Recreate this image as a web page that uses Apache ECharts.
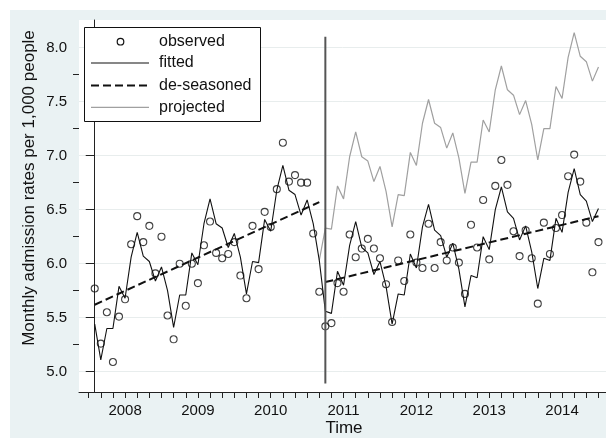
<!DOCTYPE html>
<html>
<head>
<meta charset="utf-8">
<script src="https://cdn.jsdelivr.net/npm/echarts@6/dist/echarts.min.js"></script>
<style>
html, body { margin: 0; padding: 0; background: #fff; }
#chart { width: 606px; height: 438px; }
</style>
</head>
<body>
<div id="chart"></div>
<script>
// monthly series, month 0 = first observation (Aug 2007)
var observed = [
  5.77, 5.26, 5.55, 5.09, 5.51, 5.67, 6.18, 6.44, 6.20, 6.35, 5.91, 6.25,
  5.52, 5.30, 6.00, 5.61, 6.00, 5.82, 6.17, 6.39, 6.10, 6.05, 6.09, 6.20,
  5.89, 5.68, 6.35, 5.95, 6.48, 6.34, 6.69, 7.12, 6.76, 6.82, 6.75, 6.75,
  6.28, 5.74, 5.42, 5.45, 5.82, 5.74, 6.27, 6.06, 6.14, 6.23, 6.14, 6.05,
  5.81, 5.46, 6.03, 5.84, 6.27, 6.01, 5.96, 6.37, 5.96, 6.20, 6.03, 6.15,
  6.01, 5.72, 6.36, 6.15, 6.59, 6.04, 6.72, 6.96, 6.73, 6.30, 6.07, 6.31,
  6.05, 5.63, 6.38, 6.09, 6.33, 6.45, 6.81, 7.01, 6.76, 6.38, 5.92, 6.20
];
// fitted, months 0-37 (before the change)
var fittedPre = [
  5.44, 5.11, 5.40, 5.40, 5.79, 5.68, 6.06, 6.29, 6.07, 6.02, 5.84, 5.97,
  5.75, 5.41, 5.71, 5.71, 6.10, 5.99, 6.37, 6.60, 6.37, 6.33, 6.15, 6.28,
  6.06, 5.72, 6.02, 6.01, 6.41, 6.30, 6.68, 6.91, 6.68, 6.64, 6.45, 6.59,
  6.37, 6.03
];
// fitted, months 38-83 (after the change)
var fittedPost = [
  5.56, 5.54, 5.93, 5.80, 6.17, 6.39, 6.15, 6.10, 5.90, 6.02,
  5.79, 5.44, 5.72, 5.71, 6.09, 5.96, 6.34, 6.55, 6.31, 6.26, 6.06, 6.19,
  5.95, 5.60, 5.89, 5.87, 6.25, 6.13, 6.50, 6.71, 6.48, 6.42, 6.22, 6.35,
  6.11, 5.77, 6.05, 6.03, 6.42, 6.29, 6.66, 6.88, 6.64, 6.58, 6.39, 6.51
];
// projected, months 37-83
var projected = [
  6.03,
  6.33, 6.32, 6.72, 6.60, 6.99, 7.22, 6.99, 6.95, 6.76, 6.90,
  6.67, 6.34, 6.64, 6.63, 7.03, 6.91, 7.30, 7.52, 7.30, 7.26, 7.07, 7.21,
  6.98, 6.65, 6.94, 6.94, 7.33, 7.22, 7.61, 7.83, 7.61, 7.56, 7.38, 7.51,
  7.29, 6.96, 7.25, 7.25, 7.64, 7.53, 7.91, 8.14, 7.92, 7.87, 7.69, 7.82
];
var deseasonedPre = [[0, 5.62], [37, 6.57]];
var deseasonedPost = [[38, 5.83], [83, 6.44]];
var interruption = [[38, 8.10], [38, 4.89]];

var yearLabels = ['2008', '2009', '2010', '2011', '2012', '2013', '2014'];
var yearMonths = [5, 17, 29, 41, 53, 65, 77];
var yMajor = [5.0, 5.5, 6.0, 6.5, 7.0, 7.5, 8.0];
var yMinor = [5.25, 5.75, 6.25, 6.75, 7.25, 7.75];

var xTicks = [];
for (var t = -1; t <= 83; t += 2) xTicks.push(t);

var font = 'Liberation Sans, Arial, sans-serif';
var chart = echarts.init(document.getElementById('chart'));

function pairs(arr, start) {
  return arr.map(function (v, i) { return [i + start, v]; });
}

var legendRows = [
  { y: 41.7, label: 'observed' },
  { y: 63.0, label: 'fitted' },
  { y: 85.6, label: 'de-seasoned' },
  { y: 107.4, label: 'projected' }
];
var legendEls = [{
  type: 'rect', shape: { x: 84.5, y: 27.5, width: 176, height: 94 },
  style: { fill: '#fff', stroke: '#111', lineWidth: 1 }, z: 50
}, {
  type: 'circle', shape: { cx: 120.5, cy: legendRows[0].y, r: 3.3 },
  style: { fill: 'none', stroke: '#111', lineWidth: 1.2 }, z: 51
}, {
  type: 'line', shape: { x1: 91, y1: legendRows[1].y, x2: 149, y2: legendRows[1].y },
  style: { stroke: '#111', lineWidth: 1.2 }, z: 51
}, {
  type: 'line', shape: { x1: 91, y1: legendRows[2].y, x2: 149, y2: legendRows[2].y },
  style: { stroke: '#111', lineWidth: 2, lineDash: [8, 4] }, z: 51
}, {
  type: 'line', shape: { x1: 91, y1: legendRows[3].y, x2: 149, y2: legendRows[3].y },
  style: { stroke: '#a0a0a0', lineWidth: 1.2 }, z: 51
}];
legendRows.forEach(function (r) {
  legendEls.push({
    type: 'text', x: 159, y: r.y, z: 51,
    style: { text: r.label, font: '16px ' + font, fill: '#111', verticalAlign: 'middle' }
  });
});

var option = {
  animation: false,
  backgroundColor: '#eaf2f3',
  grid: {
    left: 79, top: 20, right: 0, bottom: 46,
    show: true, backgroundColor: '#fff', borderWidth: 0
  },
  xAxis: {
    type: 'value',
    min: -2.59,
    max: 84.24,
    axisLine: { lineStyle: { color: '#222', width: 1 } },
    axisTick: { customValues: xTicks, length: 6, lineStyle: { color: '#222' } },
    axisLabel: {
      customValues: yearMonths,
      margin: 11,
      fontSize: 15,
      fontFamily: font,
      color: '#111',
      formatter: function (v) { return yearLabels[yearMonths.indexOf(v)]; }
    },
    splitLine: { show: false }
  },
  yAxis: [{
    type: 'value',
    min: 4.812,
    max: 8.256,
    position: 'left',
    axisLine: { show: true, lineStyle: { color: '#222', width: 1 } },
    axisTick: { show: true, customValues: yMajor, length: 9, lineStyle: { color: '#222' } },
    axisLabel: {
      customValues: yMajor,
      margin: 12,
      fontSize: 15,
      fontFamily: font,
      color: '#111',
      formatter: function (v) { return v.toFixed(1); }
    },
    splitLine: { show: true, lineStyle: { color: '#e8eded', width: 1 } }
  }, {
    type: 'value',
    min: 4.812,
    max: 8.256,
    position: 'left',
    axisLine: { show: false },
    axisTick: { show: true, customValues: yMinor, length: 6, lineStyle: { color: '#222' } },
    axisLabel: { show: false },
    splitLine: { show: false }
  }],
  series: [{
    name: 'projected',
    type: 'line',
    data: pairs(projected, 37),
    symbol: 'none',
    lineStyle: { color: '#a0a0a0', width: 1.2 },
    z: 2
  }, {
    name: 'de-seasoned',
    type: 'line',
    data: deseasonedPre,
    symbol: 'none',
    lineStyle: { color: '#111', width: 2, type: [8, 4] },
    z: 3
  }, {
    name: 'de-seasoned',
    type: 'line',
    data: deseasonedPost,
    symbol: 'none',
    lineStyle: { color: '#111', width: 2, type: [8, 4] },
    z: 3
  }, {
    name: 'fitted',
    type: 'line',
    data: pairs(fittedPre, 0).concat(pairs(fittedPost, 38)),
    symbol: 'none',
    lineStyle: { color: '#111', width: 1.1 },
    z: 4
  }, {
    name: 'observed',
    type: 'scatter',
    data: pairs(observed, 0),
    symbol: 'circle',
    symbolSize: 7,
    itemStyle: { color: 'rgba(0,0,0,0)', borderColor: '#111', borderWidth: 1.1 },
    z: 5
  }, {
    name: 'interruption',
    type: 'line',
    data: interruption,
    symbol: 'none',
    lineStyle: { color: '#555', width: 2 },
    z: 6
  }],
  graphic: [{
    type: 'rect', shape: { x: 0, y: 0, width: 606, height: 10 },
    style: { fill: '#fff' }, silent: true
  }, {
    type: 'rect', shape: { x: 0, y: 0, width: 10, height: 438 },
    style: { fill: '#fff' }, silent: true
  }, {
    type: 'text', x: 29, y: 188, rotation: Math.PI / 2,
    style: {
      text: 'Monthly admission rates per 1,000 people',
      font: '17px ' + font, fill: '#111', align: 'center', verticalAlign: 'middle'
    }
  }, {
    type: 'text', x: 344, y: 428,
    style: { text: 'Time', font: '17px ' + font, fill: '#111', align: 'center', verticalAlign: 'middle' }
  }].concat(legendEls)
};

chart.setOption(option);
</script>
</body>
</html>
